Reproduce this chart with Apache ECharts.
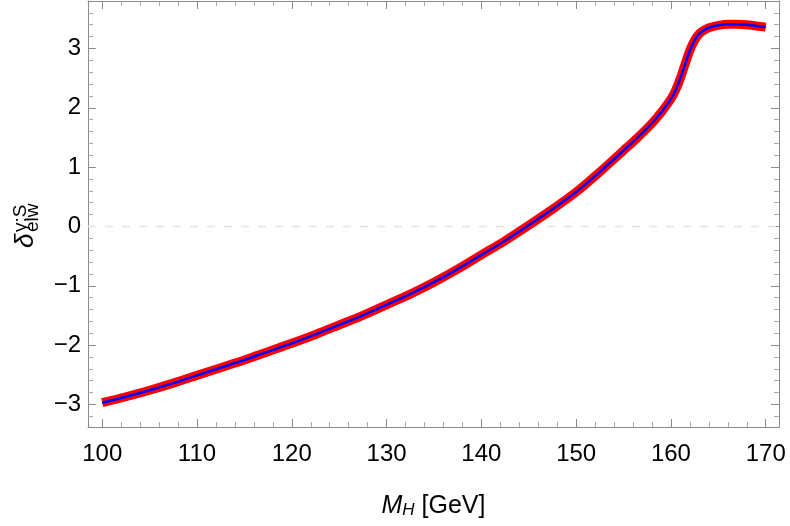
<!DOCTYPE html>
<html>
<head>
<meta charset="utf-8">
<script src="https://cdn.jsdelivr.net/npm/echarts@6/dist/echarts.min.js"></script>
<style>
  html, body { margin: 0; padding: 0; background: #fff; }
  #chart { width: 790px; height: 526px; }
</style>
</head>
<body>
<div id="chart"></div>
<script>
// M_H in GeV
var massValues = [100, 102.5, 105, 107.5, 110, 112.5, 115, 117.5, 120, 122.5, 125, 127.5, 130, 132.5, 135, 137.5,
  140, 142.5, 145, 147.5, 150, 152.5, 155, 156.5, 158, 159, 160, 160.5, 161, 161.5, 162, 162.5, 163, 163.5,
  164, 165, 166, 167, 168, 169, 170]
// delta_elw values
var deltaValues = [-2.97, -2.87, -2.76, -2.64, -2.51, -2.38, -2.25, -2.11, -1.97, -1.82, -1.66, -1.50, -1.32, -1.14, -0.94, -0.72,
  -0.48, -0.24, 0.02, 0.29, 0.58, 0.92, 1.28, 1.50, 1.74, 1.93, 2.15, 2.30, 2.50, 2.74, 2.97, 3.14, 3.25, 3.31,
  3.35, 3.39, 3.41, 3.41, 3.40, 3.38, 3.36]
var xTickLabels = [100, 110, 120, 130, 140, 150, 160, 170]
var yTickLabels = [-3, -2, -1, 0, 1, 2, 3]

var xRange = [98.5, 171.4]
var yRange = [-3.38, 3.8]

var points = massValues.map(function(m, i) { return [m, deltaValues[i]] })
var zeroLine = [[xRange[0], 0], [xRange[1], 0]]

var frameColor = '#8a8a8a'
var labelFont = 'Liberation Sans'

function frameAxis(showLabels, ticks, margin, extra) {
  var axis = {
    type: 'value',
    splitLine: { show: false },
    axisLine: { show: true, onZero: false, lineStyle: { color: frameColor, width: 1 } },
    axisTick: { show: true, inside: true, length: 8, lineStyle: { color: frameColor, width: 1 } },
    minorTick: { show: true, splitNumber: 5, length: 5, lineStyle: { color: '#a8a8a8', width: 1 } },
    axisLabel: {
      show: showLabels,
      color: '#000',
      fontFamily: labelFont,
      fontSize: 24,
      margin: margin,
      showMinLabel: true,
      showMaxLabel: true,
      formatter: function(v) {
        var r = Math.round(v)
        if (Math.abs(v - r) > 1e-6 || ticks.indexOf(r) < 0) return ''
        return String(r).replace('-', '\u2212')
      }
    }
  }
  for (var k in extra) axis[k] = extra[k]
  return axis
}

var chart = echarts.init(document.getElementById('chart'))
chart.setOption({
  animation: false,
  backgroundColor: '#fff',
  grid: { left: 88, right: 11, top: 1, bottom: 99, containLabel: false },
  xAxis: [
    frameAxis(true, xTickLabels, 15, {
      position: 'bottom', min: xRange[0], max: xRange[1], splitNumber: 7,
      name: '{m|M}{h|H}{u| [GeV]}',
      nameLocation: 'middle',
      nameGap: 63,
      nameTextStyle: {
        rich: {
          m: { fontFamily: labelFont, fontStyle: 'italic', fontSize: 25, color: '#000', verticalAlign: 'bottom', lineHeight: 29 },
          h: { fontFamily: labelFont, fontStyle: 'italic', fontSize: 17, color: '#000', verticalAlign: 'bottom', lineHeight: 21 },
          u: { fontFamily: labelFont, fontSize: 25, color: '#000', verticalAlign: 'bottom', lineHeight: 29 }
        }
      }
    }),
    frameAxis(false, xTickLabels, 15, { position: 'top', min: xRange[0], max: xRange[1], splitNumber: 7 })
  ],
  yAxis: [
    frameAxis(true, yTickLabels, 7, { position: 'left', min: yRange[0], max: yRange[1], splitNumber: 7 }),
    frameAxis(false, yTickLabels, 7, { position: 'right', min: yRange[0], max: yRange[1], splitNumber: 7 })
  ],
  graphic: [
    { type: 'text', x: 26, y: 248, rotation: Math.PI / 2,
      style: { text: '\u03b4', fontFamily: labelFont, fontStyle: 'italic', fontSize: 26, fill: '#000', align: 'left', verticalAlign: 'middle' } },
    { type: 'text', x: 21, y: 232, rotation: Math.PI / 2,
      style: { text: '\u03b3;S', fontFamily: labelFont, fontSize: 19, fill: '#000', align: 'left', verticalAlign: 'middle' } },
    { type: 'text', x: 33, y: 232, rotation: Math.PI / 2,
      style: { text: 'elw', fontFamily: labelFont, fontSize: 19, fill: '#000', align: 'left', verticalAlign: 'middle' } }
  ],
  series: [
    {
      type: 'line',
      data: zeroLine,
      z: 1,
      silent: true,
      showSymbol: false,
      lineStyle: { type: [8, 9], color: '#e2e2e2', width: 1.5 }
    },
    {
      type: 'line',
      data: points,
      z: 2,
      showSymbol: false,
      smooth: 0.3,
      lineStyle: { color: '#ff0000', width: 9 }
    },
    {
      type: 'line',
      data: points,
      z: 3,
      showSymbol: false,
      smooth: 0.3,
      lineStyle: { color: '#0000ff', width: 2.5 }
    }
  ]
})
</script>
</body>
</html>
